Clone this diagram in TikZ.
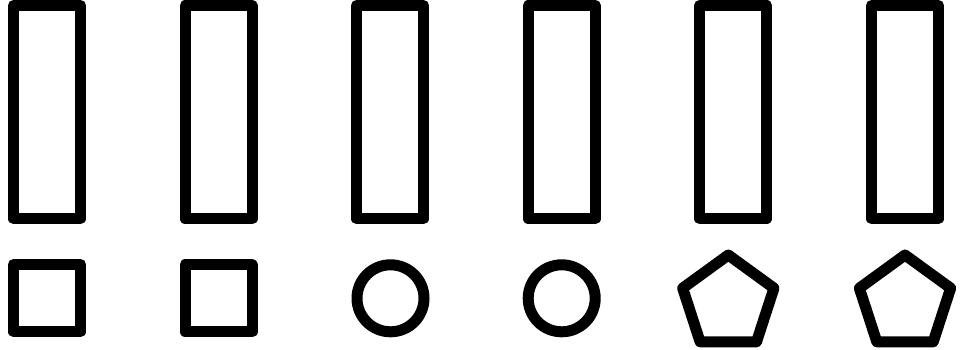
\documentclass[tikz,border=0pt]{standalone}
\usepackage{tikz}
\tikzset{outline/.style={draw=black, line width=11pt, line join=round}}

\begin{document}
\begin{tikzpicture}[x=1pt,y=-1pt]
  % canvas of 965 x 350 (y runs downwards)
  \useasboundingbox (0,0) rectangle (965,350);

  % tall bars, one per column
  \foreach \cx in {47,218.5,390,561.7,733.3,905} {
    \draw[outline] (\cx-33.5,5.5) rectangle (\cx+33.5,218.8);
  }

  % squares
  \foreach \cx in {47,218.5} {
    \draw[outline] (\cx-33.5,264.5) rectangle (\cx+33.5,331.8);
  }

  % circles
  \foreach \cx in {390.5,561.7} {
    \draw[outline] (\cx,298.3) circle (33.5);
  }

  % pentagons (top vertex at -90 since y points down)
  \foreach \cx in {728.3,905} {
    \draw[outline] (\cx,303) +(-90:48) -- +(-18:48) -- +(54:48)
      -- +(126:48) -- +(198:48) -- cycle;
  }
\end{tikzpicture}
\end{document}
